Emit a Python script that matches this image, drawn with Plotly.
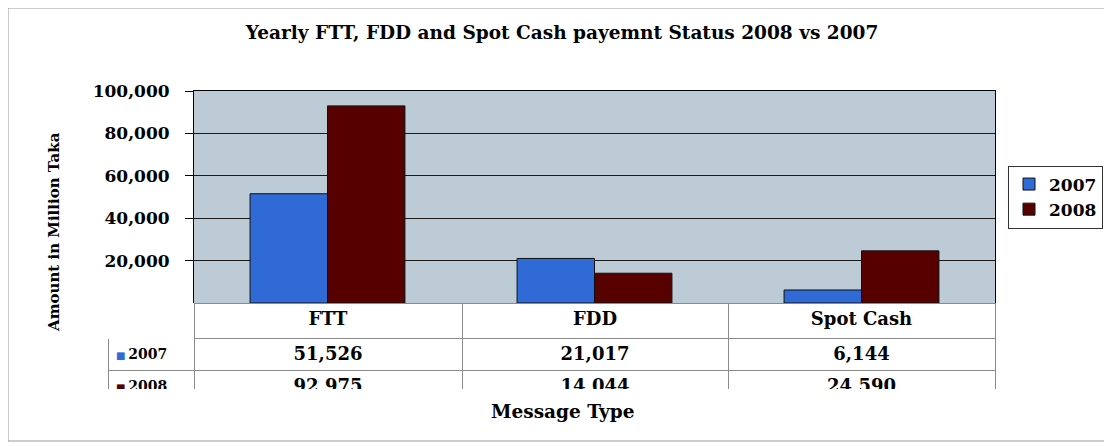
import plotly.graph_objects as go

categories = ["FTT", "FDD", "Spot Cash"]
years = ["2007", "2008"]
values_2007 = [51526, 21017, 6144]
values_2008 = [92975, 14044, 24590]
tick_vals = [0, 20000, 40000, 60000, 80000, 100000]
tick_text = ["-", "20,000", "40,000", "60,000", "80,000", "100,000"]

blue = "#2F6AD6"
red = "#560000"
serif = "DejaVu Serif"

# page body has an 8px margin, so work in reference pixels shifted by 8
OFF = 8
W, H = 1112 - OFF, 447 - OFF
left, right, top, bottom = 108 - OFF, 995 - OFF, 91 - OFF, 390 - OFF
pw, ph = right - left, bottom - top


def px(x):
    return (x - OFF - left) / pw


def py(y):
    return (bottom - (y - OFF)) / ph


def bold(size):
    return dict(family=serif, size=size, color="black", weight="bold")


fig = go.Figure()
fig.add_trace(go.Bar(x=categories, y=values_2007, name=years[0],
                     marker=dict(color=blue, line=dict(color="#101010", width=1))))
fig.add_trace(go.Bar(x=categories, y=values_2008, name=years[1],
                     marker=dict(color=red, line=dict(color="#101010", width=1))))

# data table under the chart; label kept short and free of plain spaces so the
# table's word wrap does not push it onto a second line
fmt = lambda v: f"{v:,}"
sq = "<a href=''style='color:{};font-size:10px'>■</a>\u2009{}"
row_labels = [sq.format(blue, years[0]), sq.format(red, years[1])]
cols = [row_labels] + [[fmt(a), fmt(b)] for a, b in zip(values_2007, values_2008)]
fig.add_trace(go.Table(
    domain=dict(x=[0, 1], y=[0, py(303)]),
    columnwidth=[194 - 108, 268, 266, 267],
    header=dict(values=[""] + categories,
                height=35, align="center", fill_color="white",
                line=dict(color=["white", "#8A8A8A", "#8A8A8A", "#8A8A8A"], width=1),
                font=bold(18)),
    cells=dict(values=cols, height=26, align=["left", "center", "center", "center"],
               fill_color="white", line=dict(color="#8A8A8A", width=1),
               font=dict(family=serif, size=[14, 18, 18, 18], color="black", weight="bold")),
))

fig.update_layout(
    width=W, height=H,
    margin=dict(l=left, r=W - right, t=top, b=H - bottom, pad=0),
    paper_bgcolor="white",
    plot_bgcolor="#BCCBD6",
    barmode="group", bargap=0.42, bargroupgap=0,
    title=dict(text="Yearly FTT, FDD and Spot Cash payemnt Status 2008 vs 2007",
               x=(562 - OFF) / W, xanchor="center", y=1 - (33 - OFF) / H,
               yanchor="middle", font=bold(18.5)),
    xaxis=dict(domain=[px(194), 1], showticklabels=False, showline=True,
               linecolor="black", linewidth=1, mirror=True, ticks="", automargin=False),
    yaxis=dict(domain=[py(303), 1], range=[0, 100000], tickvals=tick_vals,
               ticktext=tick_text, showgrid=True, gridcolor="#1A1A1A", gridwidth=1,
               ticks="outside", ticklen=8, tickcolor="black", showline=True,
               linecolor="black", linewidth=1, mirror=True, zeroline=False,
               ticklabelstandoff=12, automargin=False, tickfont=bold(17)),
    legend=dict(xref="container", yref="container",
                x=(1103 - OFF) / W, y=1 - (197 - OFF) / H, xanchor="right", yanchor="middle",
                bgcolor="white", bordercolor="#333333", borderwidth=1,
                font=bold(17), itemwidth=30, tracegroupgap=2),
    annotations=[
        dict(text="Amount in Million Taka", x=px(54), y=py(232), xref="paper",
             yref="paper", xanchor="center", yanchor="middle", textangle=-90,
             showarrow=False, font=bold(15)),
        dict(text="Message Type", x=px(562), y=py(411), xref="paper",
             yref="paper", xanchor="center", yanchor="middle", showarrow=False,
             font=bold(18.5)),
    ],
    shapes=[dict(type="rect", xref="paper", yref="paper", x0=px(8), x1=px(1109),
                 y0=py(441), y1=py(8), line=dict(color="#9A9A9A", width=1))],
)

fig.write_html("out.html")
